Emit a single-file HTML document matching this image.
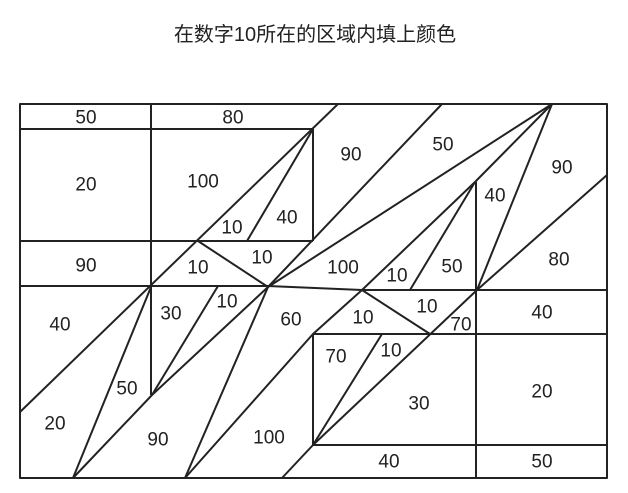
<!DOCTYPE html>
<html><head><meta charset="utf-8"><style>
html,body{margin:0;padding:0;background:#fff;}
svg{display:block;}
text{font-family:"Liberation Sans","DejaVu Sans",sans-serif;font-size:19px;fill:#222;text-anchor:middle;dominant-baseline:central;}
.t{font-family:"Liberation Sans","Noto Sans CJK SC",sans-serif;font-size:20px;}
</style></head><body>
<svg width="628" height="493" viewBox="0 0 628 493" xmlns="http://www.w3.org/2000/svg">
<text class="t" x="315" y="35">在数字10所在的区域内填上颜色</text>
<g stroke="#222" stroke-width="2" fill="none" stroke-linejoin="round">
<rect x="20" y="104" width="587" height="374"/>
<line x1="151" y1="104" x2="151" y2="395"/>
<line x1="20" y1="129" x2="313" y2="129"/>
<line x1="20" y1="241" x2="313" y2="241"/>
<line x1="313" y1="129" x2="313" y2="241"/>
<polyline points="20,286 268,286 362,290 607,290"/>
<line x1="338" y1="104" x2="20" y2="412"/>
<line x1="313" y1="129" x2="247" y2="241"/>
<line x1="198" y1="241" x2="268" y2="287"/>
<polyline points="442,104 268,287 152,395 73,478"/>
<line x1="151" y1="287" x2="73" y2="478"/>
<line x1="218" y1="286" x2="152" y2="395"/>
<line x1="268" y1="287" x2="185" y2="478"/>
<polyline points="552,104 475,182 362,290 313,334 185,478"/>
<line x1="552" y1="104" x2="268" y2="287"/>
<line x1="552" y1="104" x2="477" y2="290"/>
<line x1="475" y1="182" x2="410" y2="290"/>
<line x1="476" y1="182" x2="476" y2="478"/>
<line x1="607" y1="175" x2="477" y2="290"/>
<line x1="313" y1="334" x2="607" y2="334"/>
<line x1="313" y1="334" x2="313" y2="445"/>
<line x1="313" y1="445" x2="607" y2="445"/>
<line x1="362" y1="290" x2="430" y2="334"/>
<line x1="313" y1="445" x2="382" y2="334"/>
<line x1="313" y1="445" x2="477" y2="290"/>
<line x1="313" y1="445" x2="282" y2="478"/>
</g>
<text x="86" y="118">50</text><text x="233" y="118">80</text>
<text x="86" y="185">20</text><text x="203" y="182">100</text>
<text x="232" y="228">10</text><text x="287" y="218">40</text>
<text x="86" y="266">90</text><text x="198" y="268">10</text><text x="262" y="258">10</text>
<text x="351" y="155">90</text><text x="443" y="145">50</text><text x="562" y="168">90</text>
<text x="495" y="196">40</text><text x="343" y="268">100</text><text x="397" y="276">10</text>
<text x="452" y="267">50</text><text x="559" y="260">80</text>
<text x="60" y="325">40</text><text x="171" y="314">30</text><text x="227" y="302">10</text>
<text x="291" y="320">60</text><text x="363" y="318">10</text><text x="427" y="307">10</text>
<text x="461" y="325">70</text><text x="542" y="313">40</text>
<text x="336" y="357">70</text><text x="391" y="351">10</text><text x="419" y="404">30</text>
<text x="542" y="392">20</text><text x="127" y="389">50</text><text x="55" y="424">20</text>
<text x="158" y="440">90</text><text x="269" y="438">100</text>
<text x="389" y="462">40</text><text x="542" y="462">50</text>
</svg>
</body></html>
